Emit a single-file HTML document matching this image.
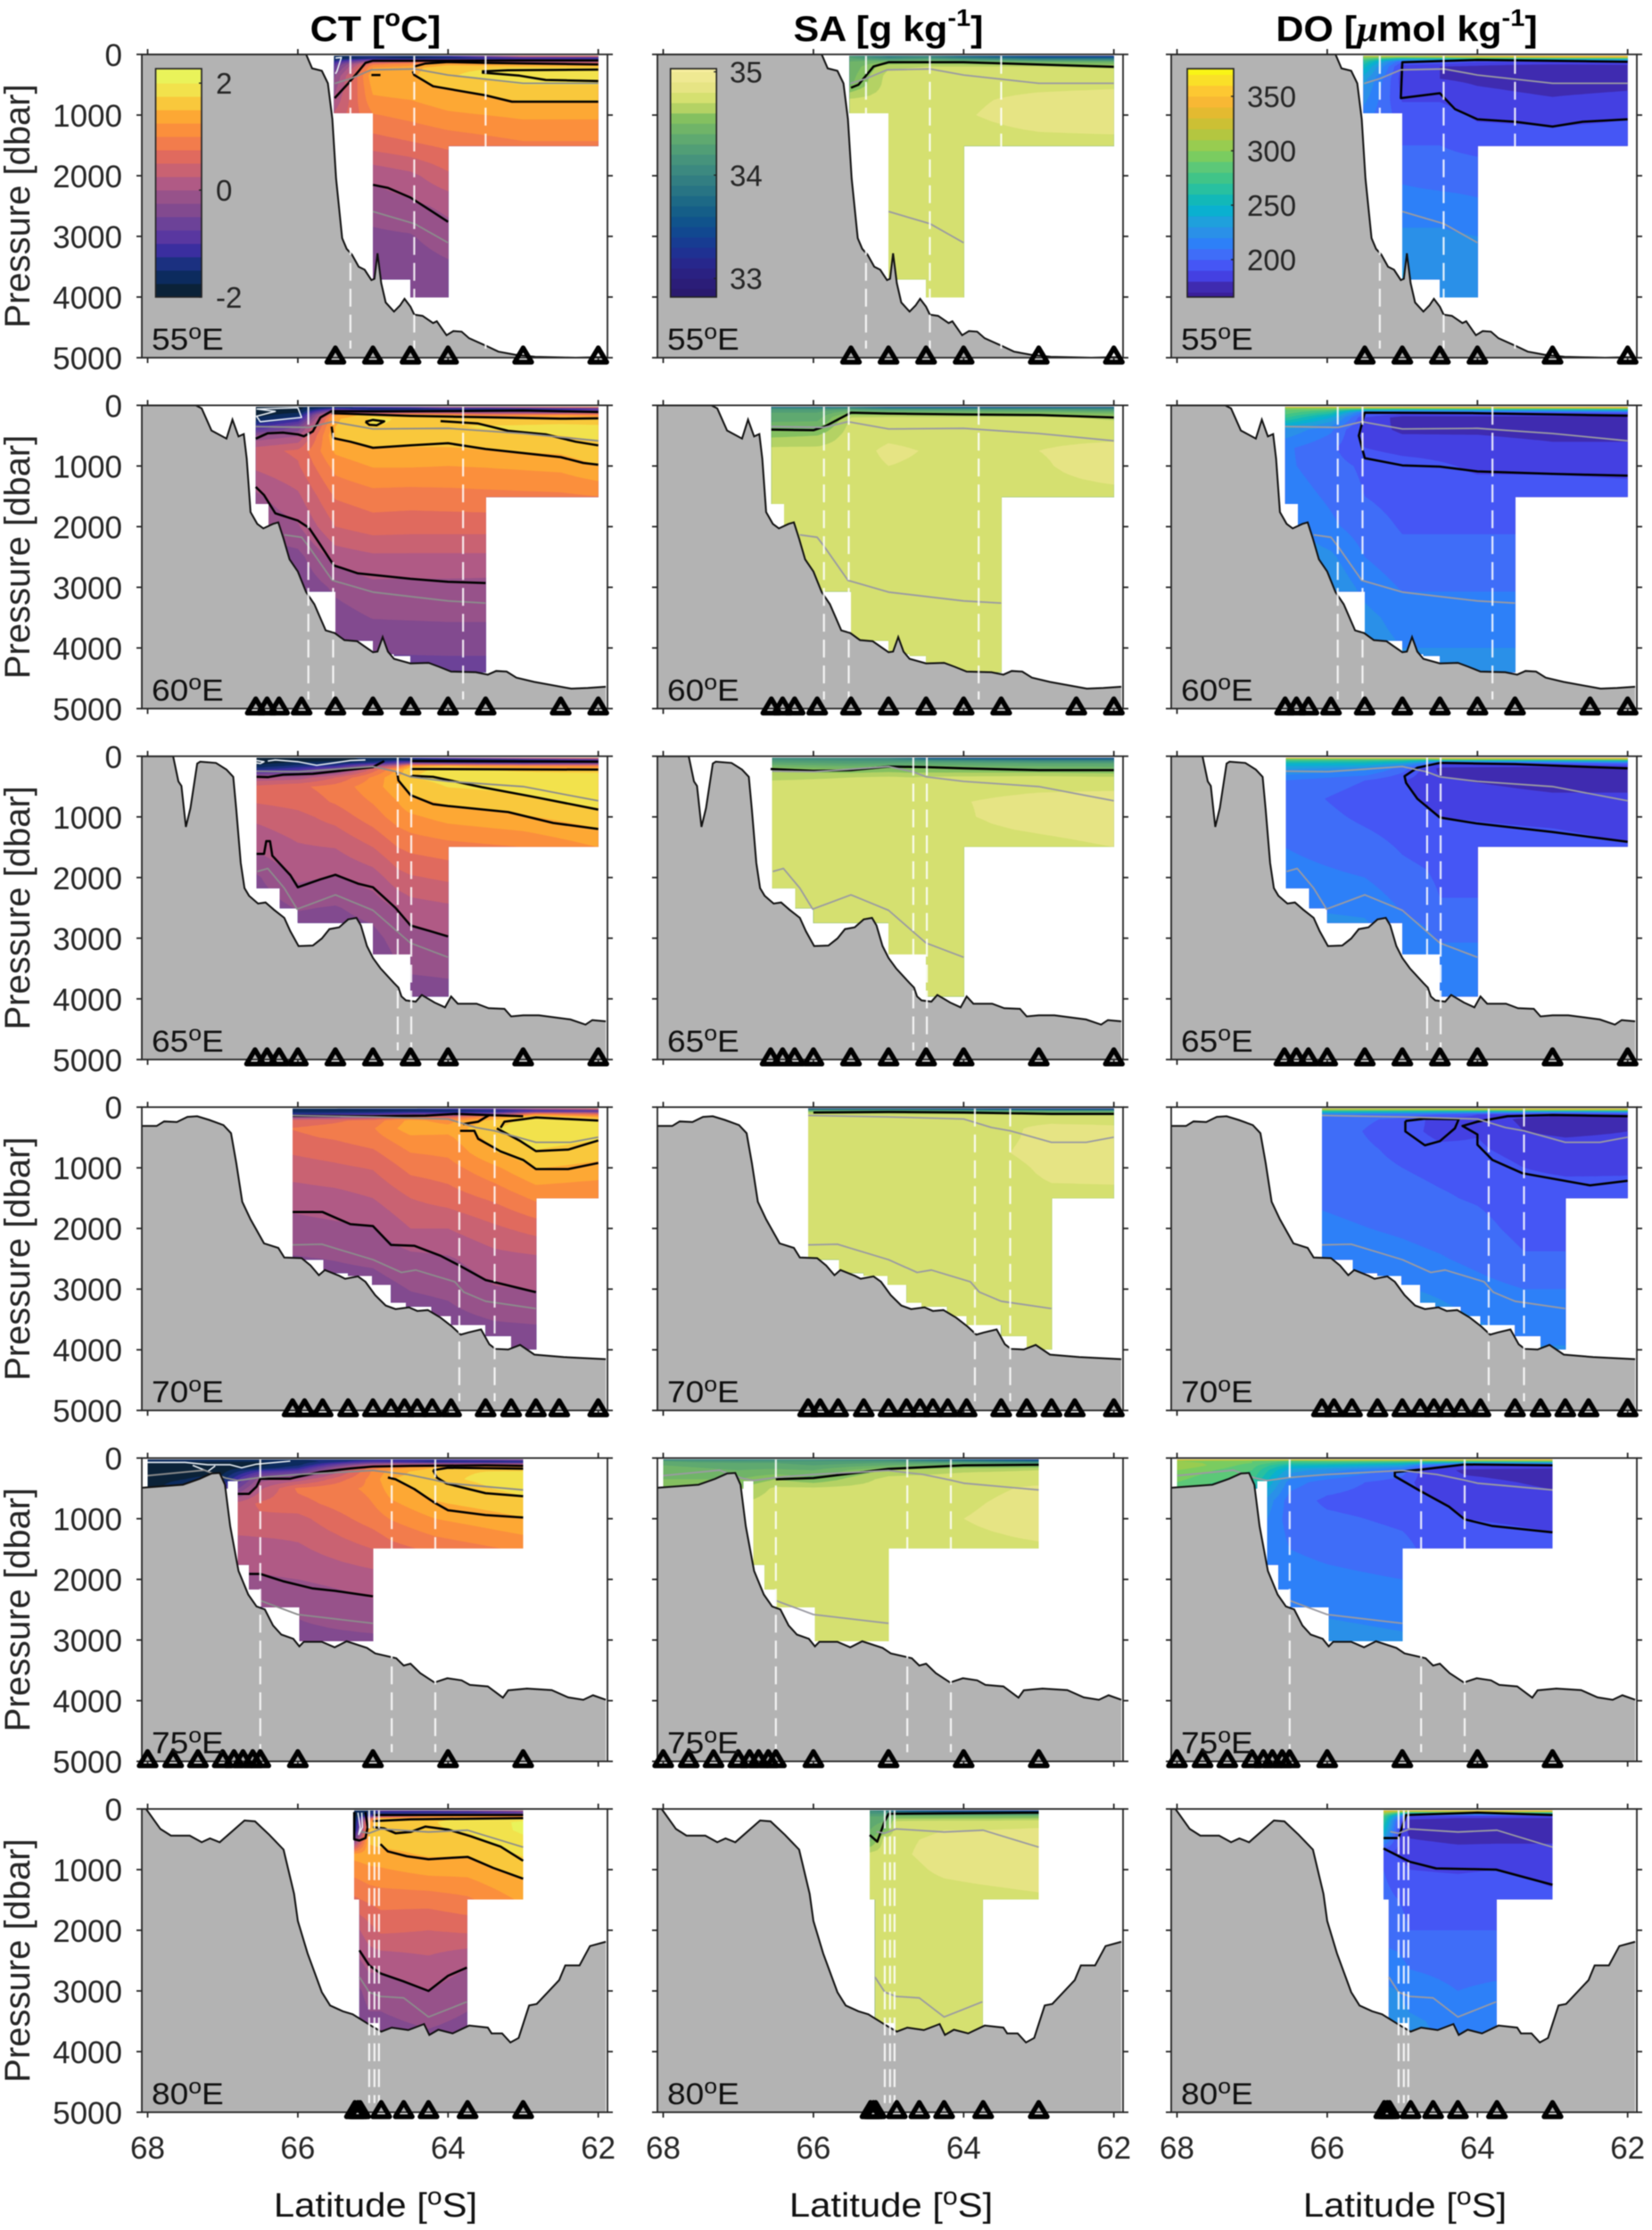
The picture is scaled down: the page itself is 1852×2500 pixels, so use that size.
<!DOCTYPE html>
<html lang="en">
<head>
<meta charset="utf-8">
<title>Hydrographic sections: CT, SA and DO at 55-80E</title>
<style>
html,body{margin:0;padding:0;background:#fff;}
#figure{display:block;width:1852px;height:2500px;filter:blur(0.5px);font-family:"Liberation Sans",sans-serif;}
</style>
</head>
<body>
<svg id="figure" xmlns="http://www.w3.org/2000/svg" width="1852" height="2500" viewBox="0 0 1852 2500">
<rect x="0" y="0" width="1852" height="2500" fill="#ffffff"/>
<g font-weight="bold" font-size="40" fill="#000" text-anchor="middle">
<text transform="translate(421 46) scale(1.075 1)">CT [<tspan font-size="27" dy="-17">o</tspan><tspan dy="17">C]</tspan></text>
<text transform="translate(996 46) scale(1.075 1)">SA [g kg<tspan font-size="27" dy="-17">-1</tspan><tspan dy="17">]</tspan></text>
<text transform="translate(1577 46) scale(1.075 1)">DO [<tspan font-family="'Liberation Serif',serif" font-style="italic">μ</tspan>mol kg<tspan font-size="27" dy="-17">-1</tspan><tspan dy="17">]</tspan></text>
</g>
</svg>
<script>
/* ---------- shared axes values ---------- */
const latTicks = [68, 66, 64, 62];
const pressureTicks = [0, 1000, 2000, 3000, 4000, 5000];
const ctLevels = [25,60,110,160,220,350,500,750,1000,1500,2000,2500,3000,3500,4000,4500];
const saLevels = [25,50,80,120,200,350,500,750,1000,1500,4500];
const doLevels = [25,50,80,120,200,400,700,1000,1500,2000,2500,3000,3500,4500];

/* ---------- colour bands (lower edge of each band) ---------- */
const ctEdges = [-2,-1.75,-1.5,-1.25,-1,-0.75,-0.5,-0.25,0,0.25,0.5,0.75,1,1.25,1.5,1.75,2];
const ctColors = ['#0b2238','#0c2b5e','#1b3080','#3a2e9f','#5937a0','#6c4298','#824a8f','#97528a','#b05a85','#c96272','#e06a5e','#f27c4c','#fb8f3c','#fda834','#f9c83c','#f2e24c','#e9f35a'];
const ctBarTicks = [2, 0, -2];
const saEdges = [32.8,32.9,33,33.1,33.2,33.3,33.4,33.5,33.6,33.7,33.8,33.9,34,34.1,34.2,34.3,34.4,34.5,34.6,34.7,34.8,34.9,35];
const saColors = ['#2a1a6e','#2b1d78','#2a2182','#27278c','#1f3192','#173c92','#114890','#10538c','#155e88','#1d6986','#287484','#327e82','#3c8980','#46937c','#519e76','#5fa970','#70b468','#84c060','#b4d264','#d5e070','#e6e484','#efe992','#f6ee9e'];
const saBarTicks = [35, 34, 33];
const doEdges = [160,170,180,190,200,210,220,230,240,250,260,270,280,290,300,310,320,330,340,350,360,370];
const doColors = ['#3a1f9a','#3f2bb0','#4440e2','#4556f5','#3f6df8','#2d80f8','#2a90e8','#1fa0dc','#0ab0d0','#12b8b8','#28c0a0','#40c488','#5cc878','#7acc60','#98cc50','#b4c640','#ccc034','#e4ba30','#f8b834','#fdc832','#fae028','#f9f416'];
const doBarTicks = [350, 300, 250, 200];

/* ---------- 55E ---------- */
const bathy55 = [[68.2,0],[65.89,0],[65.81,230],[65.68,270],[65.6,477],[65.54,1067],[65.49,2050],[65.41,3030],[65.35,3205],[65.28,3300],[65.19,3500],[65.11,3550],[65.02,3720],[64.98,3700],[64.94,3280],[64.89,3770],[64.83,4090],[64.72,4240],[64.64,4140],[64.58,4030],[64.5,4160],[64.45,4290],[64.34,4310],[64.2,4430],[64.15,4400],[64.02,4630],[63.93,4560],[63.82,4570],[63.72,4680],[63.5,4800],[63.33,4900],[63.11,4950],[62.84,4985],[62.3,5000],[61.9,4990]];
const stations55 = [65.5,65,64.5,64,63,62];
const dashes55 = [65.3,64.45,63.5];
const mask55 = [[65.52,65,968],[65,64.5,3710],[64.5,64,4007],[64,62,1510]];
const gray55 = [[[65.51,480],[65.3,400],[65.02,255],[64.45,240],[64,340],[63,477],[62,477]],[[65,2590],[64.45,2790],[64,3105]]];
const fieldLat55 = [65.52,65,64.5,64,63,62];
const ct55 = [
[-1.6,-1.7,-1.3,-0.9,-0.7,-0.3,-0.15,0.05,0.3,0.5,0.2,-0.2,-0.35,-0.5,-0.55,-0.55],
[-1.2,-1.5,-0.1,0.9,1.25,1.45,1.35,1.2,0.98,0.6,0.05,-0.14,-0.3,-0.42,-0.5,-0.55],
[-1.4,-1.7,0.3,1.1,1.4,1.45,1.42,1.25,1.08,0.7,0.18,-0.06,-0.27,-0.4,-0.48,-0.55],
[-1,-1.6,0.6,1.4,1.7,1.72,1.55,1.38,1.2,0.8,0.45,0.06,-0.1,-0.3,-0.45,-0.5],
[0.8,-1.2,-0.3,1.2,1.75,1.95,1.75,1.52,1.3,0.95,0.6,0.3,0,-0.3,-0.45,-0.5],
[1,-1.3,-0.3,1.2,1.75,1.76,1.75,1.52,1.3,0.95,0.6,0.3,0,-0.3,-0.45,-0.5]];
const sa55 = [
[34.2,34.3,34.35,34.4,34.42,34.45,34.48,34.72,34.75,34.75,34.75],
[33.95,34,34.2,34.5,34.68,34.74,34.75,34.75,34.76,34.75,34.75],
[34,34.1,34.3,34.52,34.7,34.75,34.75,34.77,34.78,34.75,34.75],
[33.7,33.9,34.2,34.5,34.7,34.76,34.76,34.78,34.79,34.75,34.75],
[33.4,33.6,34,34.42,34.7,34.76,34.77,34.83,34.85,34.76,34.75],
[33.3,33.6,34,34.4,34.68,34.76,34.78,34.85,34.87,34.76,34.75]];
const do55 = [
[330,300,285,270,255,235,225,215,215,218,222,228,232,235],
[330,290,240,200,186,185,188,195,200,208,215,222,230,232],
[335,300,240,198,180,180,188,195,200,205,215,222,225,228],
[345,310,240,190,178,178,183,188,197,205,212,220,225,228],
[355,320,240,190,172,175,180,187,195,205,212,220,225,228],
[355,325,250,195,172,176,182,189,195,205,212,220,225,228]];
const ctBlack55 = [[[65,2150],[64.8,2200],[64.5,2360],[64.25,2560],[64,2760]],[[64.47,280],[64.45,340],[64.2,525],[63.5,675],[63.15,780],[62,780]],[[65.51,720],[65.33,480],[65.2,290],[65.1,140],[65,105],[64.5,105],[63,100],[62,100]],[[64.45,200],[64.3,150],[64,125],[63.5,140],[62,165]],[[63.55,280],[63.2,260],[62,250]],[[63.55,300],[63.05,350],[62.7,420],[62,440]],[[65.02,340],[64.9,340]]];
const ctWhite55 = [[[65.5,60],[65.42,50],[65.48,280],[65.5,320]]];
const saBlack55 = [[[65.5,550],[65.4,500],[65.2,200],[65,130],[64,130],[62,205]]];
const doBlack55 = [[[62,120],[64,90],[65,130],[65.02,720],[64.5,640],[64.3,900],[64,1070],[63.5,1110],[63,1190],[62.6,1110],[62,1070]]];

/* ---------- 60E ---------- */
const bathy60 = [[68.2,0],[67.36,0],[67.28,50],[67.15,415],[66.95,548],[66.87,235],[66.79,513],[66.72,474],[66.68,880],[66.63,1760],[66.54,1955],[66.46,2030],[66.33,1955],[66.26,1930],[66.19,2200],[66.11,2540],[66,2740],[65.89,3080],[65.78,3280],[65.63,3710],[65.51,3755],[65.38,3870],[65.21,3890],[65,4070],[64.94,4060],[64.87,3820],[64.8,4060],[64.72,4180],[64.5,4255],[64.26,4245],[64.12,4310],[63.96,4390],[63.63,4400],[63.47,4440],[63.36,4380],[63.22,4390],[63.09,4490],[62.85,4560],[62.36,4670],[62.14,4660],[61.9,4640]];
const stations60 = [66.56,66.41,66.25,65.95,65.5,65,64.5,64,63.5,62.5,62];
const dashes60 = [65.86,65.53,63.8];
const mask60 = [[66.56,66.39,1624],[66.39,65.5,3070],[65.5,65.2,3890],[65.2,65,3880],[65,64.72,4100],[64.72,64.5,4130],[64.5,63.5,4400],[63.5,62,1510]];
const gray60 = [[[66.56,350],[65.86,365],[65.54,270],[65,390],[64,380],[63,465],[62,585]],[[66.18,2135],[65.95,2175],[65.86,2320],[65.54,2885],[65,3080],[64,3225],[63.5,3260]]];
const fieldLat60 = [66.56,66,65.5,65,64.5,64,63.5,62.5,62];
const ct60 = [
[-1.9,-1.9,-1.9,-1.85,-1.7,-1.1,-0.2,0.4,0.3,-0.05,-0.2,-0.4,-0.45,-0.48,-0.5,-0.6],
[-1.8,-1.85,-1.8,-1.6,-1.3,-0.5,-0.02,0.55,0.47,0.2,-0.03,-0.33,-0.45,-0.48,-0.5,-0.6],
[-1.6,-1,0.1,1.2,1.45,1.5,1.52,1.3,1.1,0.78,0.5,0.1,-0.2,-0.35,-0.47,-0.62],
[-0.8,-1.6,-0.5,1.7,1.8,1.74,1.65,1.47,1.27,0.9,0.62,0.2,-0.07,-0.24,-0.45,-0.7],
[-0.5,-1.6,-0.3,1.55,1.7,1.73,1.65,1.45,1.27,0.88,0.6,0.2,-0.08,-0.23,-0.44,-0.7],
[0.3,-1.5,-0.2,1.3,1.7,1.72,1.65,1.45,1.25,0.9,0.6,0.2,-0.08,-0.22,-0.43,-0.7],
[0.3,-1.5,-0.3,1,1.5,1.78,1.67,1.49,1.27,0.92,0.6,0.2,-0.09,-0.22,-0.43,-0.7],
[1,-1.3,-0.6,1.2,1.6,1.82,1.75,1.55,1.33,0.95,0.6,0.2,-0.09,-0.22,-0.43,-0.7],
[1.1,-1,-0.3,1.1,1.55,1.8,1.8,1.68,1.5,1,0.6,0.2,-0.09,-0.22,-0.43,-0.7]];
const fieldLatB60 = [66.56,65.95,65.5,65,64,63,62];
const sa60 = [
[33.7,34.1,34.25,34.3,34.35,34.45,34.58,34.74,34.75,34.75,34.75],
[33.7,34.1,34.25,34.3,34.35,34.47,34.6,34.74,34.75,34.75,34.75],
[33.8,34.15,34.35,34.5,34.7,34.74,34.75,34.76,34.76,34.75,34.75],
[33.5,34,34.3,34.5,34.72,34.76,34.78,34.82,34.8,34.76,34.75],
[33.4,34,34.3,34.48,34.72,34.75,34.76,34.77,34.77,34.75,34.75],
[33.5,34,34.3,34.5,34.72,34.76,34.76,34.8,34.78,34.75,34.75],
[33.6,34,34.25,34.45,34.68,34.74,34.76,34.86,34.88,34.75,34.75]];
const do60 = [
[340,300,290,285,272,228,212,212,216,222,228,232,235,235],
[340,300,280,265,240,212,202,204,208,212,222,228,232,235],
[345,300,245,205,190,185,190,198,200,205,210,217,223,228],
[345,300,240,195,175,178,186,195,196,199,203,209,216,224],
[345,305,240,195,175,178,185,188,195,199,203,209,216,224],
[350,305,240,195,175,176,182,188,195,199,203,209,216,224],
[350,310,245,195,172,176,182,187,194,199,203,209,216,224]];
const ctBlack60 = [[[66.56,1345],[66.45,1480],[66.3,1780],[66,1900],[65.85,2020],[65.7,2300],[65.52,2640],[65.2,2770],[64.5,2860],[64,2910],[63.5,2930]],[[66.56,550],[66.4,460],[66.2,450],[66,480],[65.92,510],[65.8,430],[65.7,200],[65.55,95],[65,100],[64,95],[63,85],[62,110]],[[65.55,350],[65.53,540],[65.3,600],[65,700],[64.5,660],[64,625],[63.5,720],[62.5,855],[62.2,950],[62,980]],[[64.1,260],[63.6,300],[63.2,420],[62.7,480],[62.3,600],[62,660]],[[65.1,270],[65,240],[64.85,265],[64.95,330],[65.05,320],[65.1,270]],[[65.55,130],[64.5,175],[63.5,195],[62.5,220],[62,215]]];
const ctWhite60 = [[[66.55,60],[66,40],[65.95,200],[66.5,270],[66.55,180],[66.3,100],[66.55,60]]];
const saBlack60 = [[[66.56,400],[66,410],[65.85,350],[65.5,120],[65,135],[64,150],[63,160],[62,200]]];
const doBlack60 = [[[62,170],[64,130],[65.5,120],[65.58,500],[65.5,870],[65,990],[64.5,1010],[64,1090],[63,1130],[62,1160]]];

/* ---------- 65E ---------- */
const bathy65 = [[68.2,0],[67.66,0],[67.59,415],[67.55,490],[67.49,1165],[67.43,855],[67.34,120],[67.3,90],[67.09,110],[66.95,220],[66.86,340],[66.82,880],[66.76,1760],[66.71,2175],[66.65,2300],[66.53,2430],[66.43,2410],[66.32,2530],[66.18,2665],[66.1,2885],[65.99,3130],[65.8,3120],[65.68,3005],[65.58,2850],[65.45,2820],[65.33,2690],[65.22,2665],[65.16,2790],[65.08,3130],[65,3325],[64.9,3495],[64.72,3740],[64.66,3815],[64.62,3960],[64.56,4025],[64.43,4045],[64.35,3935],[64.18,4060],[64.04,4140],[63.96,3960],[63.87,4080],[63.62,4080],[63.46,4155],[63.25,4165],[63.16,4290],[63,4270],[62.79,4270],[62.37,4340],[62.17,4425],[62.08,4350],[61.9,4370]];
const stations65 = [66.57,66.41,66.25,66,65.5,65,64.5,64,63,62];
const dashes65 = [64.67,64.49];
const mask65 = [[66.55,66.24,2176],[66.24,66,2504],[66,65,2748],[65,64.5,3267],[64.5,64,3960],[64,62,1491]];
const gray65 = [[[66.55,245],[65.99,255],[65,170],[64.68,255],[64.5,340],[64,415],[63,500],[62,735]],[[66.54,1900],[66.4,1850],[66.18,2175],[66.01,2520],[65.5,2285],[65,2540],[64.68,2885],[64.5,3080],[64,3315]]];
const fieldLat65 = [66.57,66,65.5,65,64.67,64.5,64,63,62];
const ct65 = [
[-1.9,-1.9,-1.85,-1.7,-1.3,0.05,0.55,0.52,0.3,0.05,-0.3,-0.42,-0.45,-0.47,-0.5,-0.55],
[-1.85,-1.9,-1.7,-1.4,-1,0.1,0.7,0.6,0.42,0.22,0.05,-0.23,-0.42,-0.47,-0.5,-0.55],
[-1.8,-1.85,-1.6,-1.2,-0.5,0.5,0.85,0.78,0.6,0.26,-0.02,-0.27,-0.4,-0.47,-0.5,-0.55],
[-1.7,-1.7,-1.3,-0.2,0.6,1.05,1.15,1.02,0.88,0.5,0.12,-0.15,-0.33,-0.45,-0.5,-0.55],
[-1.6,-1.5,-0.8,0.5,1.3,1.48,1.4,1.25,1.12,0.75,0.4,0.03,-0.15,-0.27,-0.42,-0.55],
[-1.2,-1.7,-0.5,1.4,1.7,1.74,1.6,1.42,1.2,0.82,0.47,0.13,-0.08,-0.22,-0.38,-0.5],
[-0.5,-1.7,-0.8,1.5,1.8,1.85,1.76,1.55,1.35,0.9,0.55,0.2,-0.02,-0.2,-0.35,-0.5],
[0.6,-1.5,-1,1.2,1.7,1.88,1.82,1.7,1.47,1,0.55,0.2,-0.02,-0.2,-0.35,-0.5],
[1,-1,-0.8,1,1.6,1.95,2,1.82,1.65,1.25,0.55,0.2,-0.02,-0.2,-0.35,-0.5]];
const fieldLatB65 = [66.57,65.5,65,64.67,64.5,63,62];
const sa65 = [
[34,34.15,34.25,34.35,34.55,34.68,34.74,34.75,34.75,34.75,34.75],
[34,34.1,34.2,34.3,34.5,34.7,34.74,34.75,34.75,34.75,34.75],
[33.9,34.1,34.2,34.32,34.52,34.72,34.75,34.76,34.76,34.75,34.75],
[33.7,34,34.2,34.35,34.5,34.7,34.75,34.76,34.76,34.75,34.75],
[33.4,33.9,34.2,34.35,34.5,34.72,34.76,34.78,34.76,34.75,34.75],
[33.3,33.8,34.1,34.3,34.48,34.74,34.78,34.83,34.85,34.76,34.75],
[33.4,33.8,34.1,34.3,34.45,34.72,34.78,34.85,34.88,34.8,34.75]];
const do65 = [
[345,290,270,250,232,210,205,207,210,214,220,226,232,235],
[345,290,265,250,225,200,195,198,204,210,218,224,228,232],
[345,290,260,235,205,191,193,195,199,203,209,216,222,226],
[345,290,240,210,185,183,188,192,197,201,206,212,218,224],
[345,300,235,190,178,181,186,190,196,198,201,209,216,224],
[350,305,240,195,174,176,182,187,195,198,201,209,216,224],
[350,310,245,200,172,176,182,184,191,198,201,209,216,224]];
const ctBlack65 = [[[66.55,1610],[66.45,1610],[66.42,1400],[66.37,1400],[66.34,1640],[66.1,1960],[66,2160],[65.7,2030],[65.5,1955],[65.2,2100],[65,2160],[64.7,2500],[64.5,2790],[64.25,2880],[64,2970]],[[66.55,340],[66.4,345],[66.2,305],[65.8,290],[65,180],[64.85,80]],[[64.68,250],[64.66,400],[64.5,640],[64.2,790],[64,820],[63.2,920],[62.6,1100],[62,1200]],[[64.5,320],[64.2,340],[63.55,510],[62.9,660],[62,880]],[[64.5,210],[62,220]],[[64.5,80],[62,90]]];
const ctWhite65 = [[[66.4,80],[66.3,60],[66,90],[65.75,150],[65.3,70],[65.1,60]],[[66.55,70],[66.45,90],[66.5,120],[66.55,110]]];
const saBlack65 = [[[66.57,210],[66,240],[65.5,230],[65,170],[64.5,180],[64,200],[63,230],[62,230]]];
const doBlack65 = [[[62,200],[63.5,130],[64.5,110],[64.8,190],[64.97,330],[64.95,440],[64.8,700],[64.5,1010],[64,1110],[63,1250],[62,1410]]];

/* ---------- 70E ---------- */
const bathy70 = [[68.2,310],[67.88,310],[67.78,235],[67.61,245],[67.47,160],[67.34,150],[67.18,210],[66.99,295],[66.89,430],[66.82,920],[66.74,1560],[66.63,1850],[66.45,2245],[66.26,2320],[66.18,2480],[65.95,2490],[65.83,2610],[65.72,2770],[65.64,2685],[65.45,2780],[65.37,2830],[65.2,2790],[65.1,2880],[64.97,3100],[64.83,3270],[64.7,3330],[64.52,3300],[64.41,3360],[64.27,3345],[64.1,3470],[63.95,3615],[63.83,3750],[63.73,3715],[63.56,3665],[63.45,3910],[63.37,3985],[63.2,3995],[63.04,3920],[62.85,4080],[62.46,4120],[61.9,4155]];
const stations70 = [66.07,65.91,65.67,65.33,65,64.76,64.58,64.41,64.21,63.96,63.5,63.16,62.83,62.52,62];
const dashes70 = [63.85,63.38];
const mask70 = [[66.07,65.66,2514],[65.66,65.33,2734],[65.33,65.01,2783],[65.01,64.76,2930],[64.76,64.56,3224],[64.56,64.22,3288],[64.22,63.96,3445],[63.96,63.5,3592],[63.5,63.16,3773],[63.16,62.83,3994],[62.83,62,1500]];
const gray70 = [[[66.07,137],[65,160],[64,195],[63.63,335],[63.38,390],[62.83,580],[62.37,580],[62,495]],[[66.07,2270],[65.68,2260],[65,2515],[64.62,2725],[64.43,2685],[63.91,2880],[63.79,3050],[63.5,3200],[62.83,3320]]];
const fieldLat70 = [66.07,65.5,65,64.5,64,63.38,62.83,62];
const ct70 = [
[-1.6,-1.7,-1.3,-0.3,0.6,0.76,0.7,0.52,0.38,0.1,-0.1,-0.27,-0.38,-0.45,-0.5,-0.6],
[-1.5,-1.7,-1.2,-0.2,0.7,0.85,0.78,0.6,0.45,0.15,-0.05,-0.24,-0.37,-0.45,-0.5,-0.6],
[-1.4,-1.7,-1.1,0,0.85,0.98,0.9,0.7,0.52,0.25,-0.02,-0.2,-0.36,-0.45,-0.5,-0.6],
[-1.3,-1.6,-0.8,0.8,1.32,1.4,1.2,1,0.83,0.5,0.25,-0.08,-0.24,-0.38,-0.5,-0.6],
[-1,-1.6,-0.8,0.6,1.15,1.35,1.2,1.05,0.9,0.62,0.25,-0.03,-0.2,-0.33,-0.47,-0.6],
[-0.5,-1.5,-0.5,1.2,1.6,1.72,1.62,1.48,1.2,0.8,0.45,0.15,-0.02,-0.24,-0.42,-0.6],
[0.3,-1.2,1,1.78,1.9,1.98,1.88,1.72,1.51,1.05,0.6,0.2,0.01,-0.22,-0.4,-0.6],
[0.9,-1,0.6,1.4,1.74,1.84,1.78,1.6,1.42,1,0.6,0.2,0.01,-0.22,-0.4,-0.6]];
const fieldLatB70 = [66.07,65,64,63.38,62.83,62];
const sa70 = [
[33.6,34.2,34.6,34.72,34.75,34.75,34.75,34.75,34.75,34.75,34.75],
[33.6,34.2,34.55,34.72,34.75,34.75,34.75,34.76,34.76,34.75,34.75],
[33.5,34.1,34.5,34.7,34.75,34.76,34.76,34.77,34.77,34.75,34.75],
[33.4,34,34.5,34.7,34.76,34.78,34.78,34.8,34.76,34.75,34.75],
[33.3,34,34.45,34.68,34.76,34.84,34.86,34.87,34.84,34.76,34.75],
[33.3,34,34.45,34.68,34.76,34.82,34.85,34.86,34.85,34.76,34.75]];
const fieldLatC70 = [66.07,65,64.5,64,63.38,62.83,62];
const do70 = [
[340,290,250,215,205,205,205,205,208,213,219,226,232,232],
[340,290,245,205,198,195,198,200,203,208,214,221,228,230],
[340,290,240,200,185,186,193,198,201,205,211,218,224,228],
[340,295,235,190,186,189,192,197,199,203,207,214,220,226],
[345,300,225,185,178,180,185,190,195,197,201,210,217,224],
[345,300,220,182,174,178,184,188,195,197,201,210,217,224],
[345,300,225,185,175,180,184,189,193,197,201,210,217,224]];
const ctBlack70 = [[[66.07,1730],[65.67,1730],[65.3,1930],[65,1960],[64.76,2270],[64.45,2285],[64.1,2450],[63.85,2610],[63.5,2850],[62.83,3050]],[[63.84,390],[63.65,390],[63.6,520],[63.3,730],[63,870],[62.83,1020],[62.4,1020],[62,920]],[[63.3,340],[63.25,240],[63,200],[62.83,170],[62,220]],[[63.35,350],[63.05,550],[62.83,725],[62.4,700],[62,550]],[[66.07,140],[65,150],[64.3,140],[63.9,110],[63.5,130],[63,150]],[[63.8,280],[63.6,240],[63.45,130]]];
const ctWhite70 = [];
const saBlack70 = [[[66,90],[65,80],[64,90],[62.83,110],[62,110]]];
const doBlack70 = [[[64.96,230],[64.7,190],[64.25,200],[64.3,350],[64.5,560],[64.7,630],[64.96,400],[64.96,230]],[[62,150],[63,130],[63.6,150],[64,240],[64.2,310],[64,450],[64,620],[63.8,870],[63.4,1090],[62.5,1290],[62,1215]]];

/* ---------- 75E ---------- */
const bathy75 = [[68.2,490],[68.09,490],[67.53,440],[67.31,342],[67.15,254],[67.04,245],[66.97,440],[66.9,1125],[66.79,1860],[66.66,2250],[66.55,2445],[66.44,2495],[66.33,2760],[66.22,2910],[66.06,2980],[65.98,3105],[65.92,3030],[65.68,3030],[65.51,3120],[65.35,3020],[65.08,3130],[64.97,3220],[64.69,3300],[64.59,3420],[64.5,3390],[64.37,3545],[64.18,3700],[64.01,3630],[63.82,3665],[63.71,3740],[63.47,3765],[63.27,3950],[63.2,3830],[62.95,3800],[62.62,3825],[62.4,3945],[62.2,3985],[62.07,3910],[61.9,3985]];
const stations75 = [68,67.66,67.33,67,66.85,66.73,66.6,66.5,66,65,64,63];
const dashes75 = [66.5,64.75,64.17];
const mask75 = [[68,66.94,500],[66.94,66.8,380],[66.8,66.65,1760],[66.65,66.5,2166],[66.5,65.98,2460],[65.98,65,3020],[65,63,1490]];
const gray75 = [[[68,290],[67.25,200],[66.96,330],[66.8,370],[66.5,320],[66,270],[65,205],[64.54,270],[64.17,365],[64,415],[63,525]],[[66.5,2350],[66,2580],[65,2725]]];
const fieldLat75 = [68,67,66.5,66,65,64.75,64.17,63];
const ct75 = [
[-1.7,-1.75,-1.85,-1.9,-1.9,-1.9,-1.9,-1.9,-1.9,-1.9,-1.9,-1.9,-1.9,-1.9,-1.9,-1.9],
[-1.7,-1.75,-1.85,-1.9,-1.85,-1.6,-1,0.2,0.4,0.1,-0.05,-0.3,-0.45,-0.5,-0.5,-0.55],
[-1.6,-1.75,-1.8,-1.7,-1,-0.1,0.2,0.55,0.45,0.12,-0.03,-0.28,-0.42,-0.5,-0.5,-0.55],
[-1.5,-1.7,-1.6,-1.3,-0.8,0.1,0.8,0.65,0.42,0.2,0,-0.22,-0.32,-0.45,-0.5,-0.55],
[-1.3,-1,0.1,0.9,1.05,1.1,1.05,1,0.88,0.5,0.12,-0.07,-0.3,-0.45,-0.5,-0.55],
[-1.1,-1.1,0.3,1.1,1.35,1.5,1.4,1.2,1.02,0.65,0.2,-0.05,-0.3,-0.45,-0.5,-0.55],
[-1,-1.4,0.4,1.5,1.72,1.7,1.62,1.47,1.25,0.82,0.3,0,-0.3,-0.45,-0.5,-0.55],
[-0.3,-1.5,0.4,1.5,1.77,1.85,1.82,1.68,1.48,1.05,0.4,0,-0.3,-0.45,-0.5,-0.55]];
const fieldLatB75 = [68,67,66.5,66,65,64,63];
const sa75 = [
[34,34.3,34.35,34.4,34.45,34.5,34.55,34.6,34.6,34.6,34.6],
[34,34.2,34.3,34.35,34.4,34.5,34.6,34.7,34.75,34.75,34.75],
[34.1,34.2,34.3,34.35,34.42,34.6,34.72,34.75,34.75,34.75,34.75],
[34.1,34.2,34.25,34.3,34.4,34.52,34.72,34.75,34.75,34.75,34.75],
[34,34.2,34.3,34.4,34.62,34.74,34.75,34.76,34.76,34.75,34.75],
[33.6,34,34.3,34.5,34.68,34.76,34.76,34.78,34.8,34.76,34.75],
[33.3,33.8,34.2,34.5,34.7,34.76,34.82,34.85,34.86,34.78,34.75]];
const fieldLatC75 = [68,67,66.5,66,65,64.75,64.17,63];
const do75 = [
[340,300,305,310,300,290,285,285,285,285,285,285,285,285],
[340,290,290,285,280,270,240,230,225,225,225,225,225,225],
[340,280,270,255,235,215,205,205,210,215,220,225,230,230],
[340,285,270,250,225,205,198,202,207,213,218,225,230,230],
[340,290,260,235,205,195,195,198,203,210,215,222,228,230],
[340,290,250,210,188,187,192,196,199,205,212,220,228,230],
[340,290,230,190,178,183,187,190,198,205,212,220,228,230],
[345,300,230,190,175,178,183,187,194,205,212,220,228,230]];
const ctBlack75 = [[[66.65,1910],[66.5,1910],[66.2,2030],[65.8,2150],[65.5,2190],[65,2280]],[[66.8,590],[66.65,590],[66.55,470],[66.5,340],[66.1,340],[66,310],[65.7,230],[65.3,170],[65,140],[64.5,130],[63.5,120],[63,130]],[[64.8,320],[64.7,350],[64.45,510],[64.2,720],[64,860],[63.5,940],[63,980]],[[64.2,200],[64.15,320],[64.02,420],[63.5,580],[63,630]],[[64.2,200],[64,160],[63,175]]];
const ctWhite75 = [[[68,70],[67.5,70],[67.2,110],[66.9,110],[66.75,160],[66.55,100],[66.1,50]],[[67.4,120],[67.2,220],[67.1,130]]];
const saBlack75 = [[[66.5,350],[66,330],[65,180],[64,120],[63,110]]];
const doBlack75 = [[[63,120],[64.17,105],[64.75,190],[65.1,230],[65.1,300],[64.75,550],[64.38,800],[64.17,1010],[63.8,1120],[63,1225]]];

/* ---------- 80E ---------- */
const bathy80 = [[68.2,0],[68.02,0],[67.83,330],[67.69,440],[67.44,440],[67.28,548],[67.17,485],[67.04,548],[66.71,190],[66.57,205],[66.38,425],[66.19,670],[66.05,1400],[66,1845],[65.87,2380],[65.68,3020],[65.57,3240],[65.4,3335],[65.27,3385],[65.05,3555],[64.89,3670],[64.75,3605],[64.53,3645],[64.32,3545],[64.25,3725],[64.13,3640],[63.94,3700],[63.72,3570],[63.47,3605],[63.42,3700],[63.28,3700],[63.17,3850],[63.06,3775],[62.92,3240],[62.82,3215],[62.52,2820],[62.44,2580],[62.25,2580],[62.11,2260],[61.9,2190]];
const stations80 = [65.24,65.2,65.17,64.89,64.59,64.26,63.74,63];
const dashes80 = [65.05,64.98,64.92];
const mask80 = [[65.25,65.18,1490],[65.18,65.05,3700],[65.05,64.92,3530],[64.92,63.75,3700],[63.75,63,1490]];
const gray80 = [[[65.16,375],[65.05,400],[64.9,330],[64.26,380],[63.74,350],[63,630]],[[65.18,2770],[65.05,3020],[64.9,3090],[64.59,3115],[64.26,3430],[63.75,3180]]];
const fieldLat80 = [65.25,65.05,64.9,64.26,63.74,63];
const ct80 = [
[-1.7,-1.8,-1.85,-1.85,-1.8,-1.6,-0.5,1.35,1.1,0.7,0.15,-0.08,-0.35,-0.45,-0.5,-0.55],
[-1.6,-1.5,-1.2,0.5,1.3,1.5,1.55,1.4,1.2,0.8,0.4,0.1,-0.15,-0.3,-0.45,-0.55],
[-0.5,-1.5,-0.5,1.7,1.75,1.7,1.6,1.42,1.22,0.85,0.55,0.1,-0.15,-0.3,-0.45,-0.55],
[-0.5,-1.5,0.8,1.7,1.73,1.72,1.62,1.53,1.35,0.85,0.5,0.2,0,-0.2,-0.4,-0.55],
[-0.2,-1.4,0.9,1.78,1.82,1.78,1.68,1.52,1.35,0.95,0.55,0.05,-0.15,-0.3,-0.45,-0.55],
[0.3,-1,0.9,1.9,2.05,2.05,1.95,1.78,1.6,1.3,0.55,0.05,-0.15,-0.3,-0.45,-0.55]];
const sa80 = [
[34.1,34.15,34.2,34.3,34.35,34.4,34.45,34.74,34.75,34.75,34.75],
[34,34.1,34.2,34.3,34.4,34.5,34.74,34.75,34.75,34.75,34.75],
[33.6,33.9,34.2,34.5,34.7,34.76,34.78,34.78,34.76,34.75,34.75],
[33.3,33.8,34.2,34.5,34.72,34.8,34.82,34.84,34.82,34.75,34.75],
[33.3,33.8,34.2,34.5,34.72,34.8,34.84,34.86,34.84,34.76,34.75],
[33.3,33.8,34.2,34.5,34.74,34.82,34.86,34.88,34.86,34.78,34.76]];
const do80 = [
[340,320,300,280,270,245,192,200,203,207,213,222,228,230],
[340,300,260,220,195,190,188,194,200,205,212,220,226,228],
[345,300,230,190,175,178,185,190,196,200,208,215,222,225],
[350,300,225,185,172,175,183,189,196,200,206,210,216,222],
[350,305,225,185,172,176,183,190,197,200,206,212,218,222],
[355,310,230,185,172,176,183,187,192,200,206,212,218,222]];
const ctBlack80 = [[[65.18,2330],[65.05,2580],[64.9,2710],[64.6,2840],[64.26,3000],[64,2750],[63.75,2615]],[[65.25,50],[65.25,500],[65.18,520],[65.1,480],[65.07,300],[65.1,50]],[[64.9,580],[64.8,700],[64.55,780],[64.26,830],[63.74,790],[63.4,970],[63,1150]],[[65,300],[64.85,320],[64.7,400],[64.5,380],[64.3,290],[64,340],[63.7,450],[63.3,620],[63,855]],[[65,200],[64.5,170],[63,150]],[[65,100],[63,100]]];
const ctWhite80 = [[[65.2,60],[65.17,300],[65.19,420],[65.14,300],[65.15,60]]];
const saBlack80 = [[[65.25,430],[65.15,540],[65.05,200],[65,80],[64,70],[63,60]]];
const doBlack80 = [[[65.25,480],[65.05,480],[64.95,100],[64,60],[63,100]],[[65.25,650],[64.9,870],[64.55,980],[63.75,1000],[63,1250]]];

const sections = [
 {lon:55,bathy:bathy55,stations:stations55,dashes:dashes55,mask:mask55,gray:gray55,ctLat:fieldLat55,saLat:fieldLat55,doLat:fieldLat55,ct:ct55,sa:sa55,dox:do55,ctBlack:ctBlack55,ctWhite:ctWhite55,saBlack:saBlack55,doBlack:doBlack55},
 {lon:60,bathy:bathy60,stations:stations60,dashes:dashes60,mask:mask60,gray:gray60,ctLat:fieldLat60,saLat:fieldLatB60,doLat:fieldLatB60,ct:ct60,sa:sa60,dox:do60,ctBlack:ctBlack60,ctWhite:ctWhite60,saBlack:saBlack60,doBlack:doBlack60},
 {lon:65,bathy:bathy65,stations:stations65,dashes:dashes65,mask:mask65,gray:gray65,ctLat:fieldLat65,saLat:fieldLatB65,doLat:fieldLatB65,ct:ct65,sa:sa65,dox:do65,ctBlack:ctBlack65,ctWhite:ctWhite65,saBlack:saBlack65,doBlack:doBlack65},
 {lon:70,bathy:bathy70,stations:stations70,dashes:dashes70,mask:mask70,gray:gray70,ctLat:fieldLat70,saLat:fieldLatB70,doLat:fieldLatC70,ct:ct70,sa:sa70,dox:do70,ctBlack:ctBlack70,ctWhite:ctWhite70,saBlack:saBlack70,doBlack:doBlack70},
 {lon:75,bathy:bathy75,stations:stations75,dashes:dashes75,mask:mask75,gray:gray75,ctLat:fieldLat75,saLat:fieldLatB75,doLat:fieldLatC75,ct:ct75,sa:sa75,dox:do75,ctBlack:ctBlack75,ctWhite:ctWhite75,saBlack:saBlack75,doBlack:doBlack75},
 {lon:80,bathy:bathy80,stations:stations80,dashes:dashes80,mask:mask80,gray:gray80,ctLat:fieldLat80,saLat:fieldLat80,doLat:fieldLat80,ct:ct80,sa:sa80,dox:do80,ctBlack:ctBlack80,ctWhite:ctWhite80,saBlack:saBlack80,doBlack:doBlack80}
];

/* ---------- layout ---------- */
const NS = 'http://www.w3.org/2000/svg';
const svg = document.getElementById('figure');
const colLeft = [159, 737, 1313];
const rowTop = [61, 454.4, 847.8, 1241.2, 1634.6, 2028];
const plotW = 522, plotH = 340;
const axisColor = '#262626';
const SUB = 5;

function mk(tag, attrs, parent) {
  const el = document.createElementNS(NS, tag);
  for (const k in attrs) el.setAttribute(k, attrs[k]);
  parent.appendChild(el);
  return el;
}
function polyPath(pts, xf, yf) {
  return pts.map((p, i) => (i ? 'L' : 'M') + xf(p[0]).toFixed(1) + ' ' + yf(p[1]).toFixed(1)).join('');
}
/* keep the part of a polygon where the linear field v >= t */
function clipPoly(poly, t) {
  const out = [];
  for (let i = 0; i < poly.length; i++) {
    const a = poly[i], b = poly[(i + 1) % poly.length];
    const ia = a[2] >= t, ib = b[2] >= t;
    if (ia) out.push(a);
    if (ia !== ib) {
      const f = (t - a[2]) / (b[2] - a[2]);
      out.push([a[0] + f * (b[0] - a[0]), a[1] + f * (b[1] - a[1]), t]);
    }
  }
  return out;
}
function polyStr(poly) {
  return 'M' + poly.map(p => p[0].toFixed(1) + ' ' + p[1].toFixed(1)).join('L') + 'Z';
}
function bandPath(lats, levels, cols, t, xf, yf) {
  let d = '';
  for (let i = 0; i + 1 < lats.length; i++) {
    for (let j = 0; j + 1 < levels.length; j++) {
      const x0 = xf(lats[i]), x1 = xf(lats[i + 1]), y0 = yf(levels[j]), y1 = yf(levels[j + 1]);
      const v00 = cols[i][j], v10 = cols[i + 1][j], v11 = cols[i + 1][j + 1], v01 = cols[i][j + 1];
      const lo = Math.min(v00, v10, v11, v01), hi = Math.max(v00, v10, v11, v01);
      if (hi < t) continue;
      if (lo >= t) {
        d += polyStr([[x0, y0], [x1, y0], [x1, y1], [x0, y1]]);
        continue;
      }
      const at = (a, b) => {
        const u = a / SUB, w = b / SUB;
        return [x0 + u * (x1 - x0), y0 + w * (y1 - y0),
          (1 - u) * (1 - w) * v00 + u * (1 - w) * v10 + u * w * v11 + (1 - u) * w * v01];
      };
      for (let a = 0; a < SUB; a++) {
        for (let b = 0; b < SUB; b++) {
          const A = at(a, b), B = at(a + 1, b), C = at(a + 1, b + 1), D = at(a, b + 1);
          [[A, B, C], [A, C, D]].forEach(tri => {
            const poly = clipPoly(tri, t);
            if (poly.length > 2) d += polyStr(poly);
          });
        }
      }
    }
  }
  return d;
}
function labelWithDegree(parent, x, y, size, sx, before, after, anchor) {
  const t = mk('text', {transform: 'translate(' + x + ' ' + y + ') scale(' + sx + ' 1)', 'font-size': size, fill: '#111', 'text-anchor': anchor}, parent);
  const a = mk('tspan', {}, t); a.textContent = before;
  const o = mk('tspan', {'font-size': size * 0.72, dy: -size * 0.36}, t); o.textContent = 'o';
  const b = mk('tspan', {dy: size * 0.36}, t); b.textContent = after;
  return t;
}

const variables = [
 {key:'ct', levels:ctLevels, edges:ctEdges, colors:ctColors},
 {key:'sa', levels:saLevels, edges:saEdges, colors:saColors},
 {key:'do', levels:doLevels, edges:doEdges, colors:doColors}
];

sections.forEach((sec, r) => {
  variables.forEach((vr, c) => {
    const left = colLeft[c], top = rowTop[r];
    const xf = lat => left + 6.5 + (68 - lat) * 84.2;
    const yf = p => top + p / 5000 * plotH;
    const id = vr.key + '-' + sec.lon;
    const panel = mk('g', {}, svg);
    
    

    const defs = mk('defs', {}, panel);
    const axClip = mk('clipPath', {id: 'ax-' + id}, defs);
    mk('rect', {x: left, y: top, width: plotW, height: plotH}, axClip);
    const maskClip = mk('clipPath', {id: 'mask-' + id}, defs);
    sec.mask.forEach(m => {
      mk('rect', {x: xf(m[0]), y: top, width: xf(m[1]) - xf(m[0]) + 0.4, height: yf(m[2]) - top}, maskClip);
    });

    /* filled contour bands */
    const lats = vr.key === 'ct' ? sec.ctLat : (vr.key === 'sa' ? sec.saLat : sec.doLat);
    const cols = vr.key === 'ct' ? sec.ct : (vr.key === 'sa' ? sec.sa : sec.dox);
    const field = mk('g', {'clip-path': 'url(#mask-' + id + ')'}, panel);
    
    
    vr.edges.forEach((t, k) => {
      const d = bandPath(lats, vr.levels, cols, k === 0 ? -1e9 : t, xf, yf);
      if (!d) return;
      const band = mk('path', {d: d, fill: vr.colors[k]}, field);
      
      
    });

    /* contour lines */
    const lines = mk('g', {'clip-path': 'url(#ax-' + id + ')', fill: 'none', 'stroke-linejoin': 'round'}, panel);
    
    
    const black = vr.key === 'ct' ? sec.ctBlack : (vr.key === 'sa' ? sec.saBlack : sec.doBlack);
    black.forEach(pts => {
      const l = mk('path', {d: polyPath(pts, xf, yf), stroke: '#000', 'stroke-width': 2.5}, lines);
      
      
    });
    if (vr.key === 'ct') {
      sec.ctWhite.forEach(pts => {
        const l = mk('path', {d: polyPath(pts, xf, yf), stroke: '#e8eef5', 'stroke-width': 1.6}, lines);
        
        
      });
    }
    sec.gray.forEach(pts => {
      const l = mk('path', {d: polyPath(pts, xf, yf), stroke: vr.key === 'ct' ? '#8c8c8c' : '#9a9aa2', 'stroke-width': 1.8}, lines);
      
      
    });

    /* bathymetry */
    const sea = sec.bathy.slice();
    sea.push([sea[sea.length - 1][0], 5000]);
    sea.push([sea[0][0], 5000]);
    const ground = mk('path', {d: polyPath(sea, xf, yf) + 'Z', fill: '#b3b3b3', 'clip-path': 'url(#ax-' + id + ')'}, panel);
    
    
    const seabed = mk('path', {d: polyPath(sec.bathy, xf, yf), fill: 'none', stroke: '#111', 'stroke-width': 2, 'clip-path': 'url(#ax-' + id + ')'}, panel);
    
    

    /* dashed repeat-section lines */
    sec.dashes.forEach(lat => {
      const dash = mk('line', {x1: xf(lat), x2: xf(lat), y1: yf(25), y2: yf(4850), stroke: '#ffffff', 'stroke-opacity': 0.85, 'stroke-width': 2.2, 'stroke-dasharray': '20 9'}, panel);
      
      
    });

    /* axes box and ticks */
    const box = mk('rect', {x: left, y: top, width: plotW, height: plotH, fill: 'none', stroke: axisColor, 'stroke-width': 1.8}, panel);
    
    
    const ticks = mk('g', {stroke: axisColor, 'stroke-width': 1.8}, panel);
    
    
    latTicks.forEach(v => {
      mk('line', {x1: xf(v), x2: xf(v), y1: top - 6, y2: top}, ticks);
      mk('line', {x1: xf(v), x2: xf(v), y1: top + plotH, y2: top + plotH + 6}, ticks);
    });
    pressureTicks.forEach(v => {
      mk('line', {x1: left - 6, x2: left, y1: yf(v), y2: yf(v)}, ticks);
      mk('line', {x1: left + plotW, x2: left + plotW + 6, y1: yf(v), y2: yf(v)}, ticks);
    });

    /* station triangles */
    sec.stations.forEach(lat => {
      const x = xf(lat), y = top + plotH;
      const tri = mk('path', {d: 'M' + (x - 9.5) + ' ' + (y + 5) + 'L' + (x + 9.5) + ' ' + (y + 5) + 'L' + x + ' ' + (y - 11) + 'Z', fill: 'none', stroke: '#000', 'stroke-width': 5.4, 'stroke-linejoin': 'round'}, panel);
      
      
    });

    /* section label */
    const lbl = labelWithDegree(panel, left + 11, top + plotH - 9, 34, 1.09, String(sec.lon), 'E', 'start');
    
    

    /* y axis text */
    if (c === 0) {
      pressureTicks.forEach(v => {
        const t = mk('text', {x: 137, y: yf(v) + 13, 'font-size': 35, fill: axisColor, 'text-anchor': 'end'}, panel);
        t.textContent = String(v);
        
        
      });
      const yTitle = mk('text', {transform: 'translate(33 ' + (top + plotH / 2) + ') rotate(-90)', 'font-size': 40, fill: axisColor, 'text-anchor': 'middle'}, panel);
      yTitle.textContent = 'Pressure [dbar]';
      
      
    }
    /* x axis text */
    if (r === sections.length - 1) {
      latTicks.forEach(v => {
        const t = mk('text', {x: xf(v), y: top + plotH + 52, 'font-size': 35, fill: axisColor, 'text-anchor': 'middle'}, panel);
        t.textContent = String(v);
        
        
      });
      const xTitle = labelWithDegree(panel, left + 262, 2485, 38, 1.1, 'Latitude [', 'S]', 'middle');
      
      
    }
  });
});

/* ---------- colour bars ---------- */
const bars = [
 {name:'ct', x:174.5, w:51.5, edges:ctEdges, colors:ctColors, lo:-2, hi:2.27, ticks:ctBarTicks, labelX:242},
 {name:'sa', x:751.7, w:51.5, edges:saEdges, colors:saColors, lo:32.82, hi:35.03, ticks:saBarTicks, labelX:818},
 {name:'do', x:1331, w:52, edges:doEdges, colors:doColors, lo:165.6, hi:375.4, ticks:doBarTicks, labelX:1398}
];
bars.forEach(b => {
  const barTop = 77, barBottom = 333;
  const yv = v => barBottom - (v - b.lo) / (b.hi - b.lo) * (barBottom - barTop);
  const g = mk('g', {}, svg);
  
  
  b.edges.forEach((e, k) => {
    const upper = k + 1 < b.edges.length ? b.edges[k + 1] : b.hi;
    const y0 = Math.max(barTop, yv(Math.min(upper, b.hi)));
    const y1 = Math.min(barBottom, yv(Math.max(e, b.lo)));
    if (y1 <= y0) return;
    const seg = mk('rect', {x: b.x, y: y0, width: b.w, height: y1 - y0 + 0.4, fill: b.colors[k]}, g);
    
    
  });
  const frame = mk('rect', {x: b.x, y: barTop, width: b.w, height: barBottom - barTop, fill: 'none', stroke: '#222', 'stroke-width': 1.6}, g);
  
  
  b.ticks.forEach(v => {
    const tickMark = mk('line', {x1: b.x + b.w - 3, x2: b.x + b.w, y1: yv(v), y2: yv(v), stroke: '#222', 'stroke-width': 1.4}, g);
    
    
    const t = mk('text', {x: b.labelX, y: Math.min(yv(v), 335) + 12, 'font-size': 33, fill: axisColor}, g);
    t.textContent = String(v);
    
    
  });
});
</script>
</body>
</html>
